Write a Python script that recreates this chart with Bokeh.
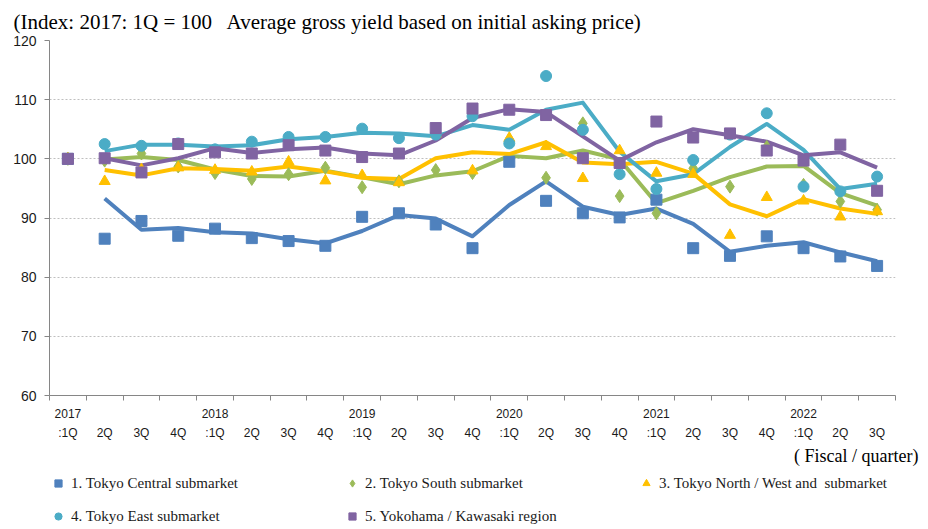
from bokeh.plotting import figure
from bokeh.models import Range1d, LinearAxis, FixedTicker, Legend, LegendItem, Title
from bokeh.layouts import column
from bokeh.embed import file_html
from bokeh.resources import INLINE

# ---------------- data ----------------
quarters = ["2017:1Q", "2017:2Q", "2017:3Q", "2017:4Q",
            "2018:1Q", "2018:2Q", "2018:3Q", "2018:4Q",
            "2019:1Q", "2019:2Q", "2019:3Q", "2019:4Q",
            "2020:1Q", "2020:2Q", "2020:3Q", "2020:4Q",
            "2021:1Q", "2021:2Q", "2021:3Q", "2021:4Q",
            "2022:1Q", "2022:2Q", "2022:3Q"]
year_labels = ["2017", "", "", "", "2018", "", "", "", "2019", "", "", "",
               "2020", "", "", "", "2021", "", "", "", "2022", "", ""]
quarter_labels = [":1Q", "2Q", "3Q", "4Q", ":1Q", "2Q", "3Q", "4Q",
                  ":1Q", "2Q", "3Q", "4Q", ":1Q", "2Q", "3Q", "4Q",
                  ":1Q", "2Q", "3Q", "4Q", ":1Q", "2Q", "3Q"]
y_ticks = [60, 70, 80, 90, 100, 110, 120]

series_names = ["1. Tokyo Central submarket",
                "2. Tokyo South submarket",
                "3. Tokyo North / West and  submarket",
                "4. Tokyo East submarket",
                "5. Yokohama / Kawasaki region"]

# quarterly index values (markers)
tokyo_central = [100, 86.5, 89.5, 87.0, 88.2, 86.6, 86.1, 85.3, 90.2, 90.8, 88.9, 84.9,
                 99.5, 92.9, 90.8, 90.1, 93.1, 84.9, 83.6, 86.9, 84.9, 83.5, 81.9]
tokyo_south = [100, 99.7, 100.9, 98.7, 97.6, 96.6, 97.4, 98.5, 95.2, 96.2, 98.1, 97.6,
               103.3, 96.8, 106.0, 93.7, 90.8, 98.4, 95.3, 102.0, 95.6, 92.8, 91.4]
tokyo_north_west = [100, 96.2, 98.2, 98.5, 98.1, 97.8, 99.5, 96.3, 97.2, 96.0, 104.2, 98.0,
                    103.5, 102.1, 96.7, 101.4, 97.6, 97.4, 87.1, 93.5, 92.9, 90.2, 91.1]
tokyo_east = [100, 102.5, 102.2, 102.6, 101.6, 102.9, 103.7, 103.7, 105.1, 103.5, 104.1, 107.2,
              102.6, 114.0, 104.9, 97.4, 94.9, 99.8, 104.1, 107.7, 95.3, 94.5, 97.0]
yokohama_kawasaki = [100, 100.1, 97.7, 102.5, 101.1, 100.9, 102.3, 101.4, 100.3, 100.9, 105.2, 108.5,
                     108.3, 107.4, 100.1, 99.3, 106.3, 103.6, 104.3, 101.4, 99.7, 102.4, 94.6]

# trend lines (from 2017:2Q onward)
tokyo_central_trend = [93.3, 88.0, 88.3, 87.6, 87.4, 86.4, 85.7, 87.8, 90.5, 89.9, 86.9,
                       92.2, 96.2, 91.9, 90.5, 91.6, 89.0, 84.3, 85.3, 85.9, 84.2, 82.7]
tokyo_south_trend = [99.9, 100.3, 99.8, 98.2, 97.1, 97.0, 98.0, 96.9, 95.7, 97.2, 97.9,
                     100.5, 100.1, 101.4, 99.9, 92.5, 94.6, 96.9, 98.7, 98.8, 94.2, 92.1]
tokyo_north_west_trend = [98.1, 97.2, 98.4, 98.3, 98.0, 98.7, 97.9, 96.8, 96.6, 100.1, 101.1,
                          100.8, 102.8, 99.4, 99.1, 99.5, 97.5, 92.3, 90.3, 93.2, 91.6, 90.7]
tokyo_east_trend = [101.3, 102.4, 102.4, 102.1, 102.3, 103.3, 103.7, 104.4, 104.3, 103.8, 105.7,
                    104.9, 108.3, 109.5, 101.2, 96.2, 97.4, 102.0, 105.9, 101.5, 94.9, 95.8]
yokohama_kawasaki_trend = [100.1, 98.9, 100.1, 101.8, 101.0, 101.6, 101.9, 100.9, 100.6, 103.1, 106.9,
                           108.4, 107.9, 103.8, 99.7, 102.8, 105.0, 104.0, 102.9, 100.6, 101.1, 98.5]

colors = ["#4F81BD", "#9BBB59", "#FFC000", "#4BACC6", "#8064A2"]
markers = ["square", "diamond", "triangle", "circle", "square"]
marker_sizes = [11, 13, 11, 11, 11]
key_sizes = [7, 8, 8, 7, 7]

values = [tokyo_central, tokyo_south, tokyo_north_west, tokyo_east, yokohama_kawasaki]
trends = [tokyo_central_trend, tokyo_south_trend, tokyo_north_west_trend,
          tokyo_east_trend, yokohama_kawasaki_trend]

# ---------------- main figure ----------------
n = len(quarters)
xs = list(range(n))

MAIN_H = 470
LEG_H = 529 - MAIN_H

p = figure(width=928, height=MAIN_H, output_backend="svg", toolbar_location=None,
           x_range=Range1d(-0.5, n - 0.5), y_range=Range1d(60, 120),
           min_border_left=49, min_border_right=33, min_border_top=40,
           min_border_bottom=MAIN_H - 395)
p.outline_line_color = None
p.background_fill_color = "white"
p.border_fill_color = "white"

p.title.text = "(Index: 2017: 1Q = 100 \u00a0 Average gross yield based on initial asking price)"
p.title.text_font = "Liberation Serif"
p.title.text_font_size = "21px"
p.title.text_font_style = "normal"
p.title.text_color = "#000000"
p.title.align = "left"
p.title.offset = -36
p.title.standoff = 13

p.xgrid.visible = False
p.ygrid.grid_line_color = "#BFBFBF"
p.ygrid.grid_line_dash = "2 2"
p.ygrid.grid_line_width = 1

# y axis
ya = p.yaxis[0]
ya.ticker = FixedTicker(ticks=y_ticks)
ya.minor_tick_line_color = None
ya.major_tick_in = 0
ya.major_tick_out = 5
ya.axis_line_color = "#868686"
ya.major_tick_line_color = "#868686"
ya.major_label_text_font = "Liberation Sans"
ya.major_label_text_font_size = "14px"
ya.major_label_text_color = "#1a1a1a"
ya.major_label_standoff = 8

# x axis row 1: years + boundary ticks
xa = p.xaxis[0]
xa.ticker = FixedTicker(ticks=xs, minor_ticks=[i - 0.5 for i in range(n + 1)])
xa.major_label_overrides = {i: lab for i, lab in enumerate(year_labels)}
xa.major_tick_out = 0
xa.major_tick_in = 0
xa.minor_tick_out = 5
xa.minor_tick_in = 0
xa.minor_tick_line_color = "#868686"
xa.axis_line_color = "#868686"
xa.major_label_text_font = "Liberation Sans"
xa.major_label_text_font_size = "12px"
xa.major_label_text_color = "#1a1a1a"
xa.major_label_standoff = 8

# x axis row 2: quarters
xa2 = LinearAxis(ticker=FixedTicker(ticks=xs))
xa2.major_label_overrides = {i: lab for i, lab in enumerate(quarter_labels)}
xa2.axis_line_color = None
xa2.major_tick_line_color = None
xa2.minor_tick_line_color = None
xa2.major_tick_out = 0
xa2.major_tick_in = 0
xa2.major_label_text_font = "Liberation Sans"
xa2.major_label_text_font_size = "12px"
xa2.major_label_text_color = "#1a1a1a"
xa2.major_label_standoff = 5
p.add_layout(xa2, "below")

# "( Fiscal / quarter)" note under the axis
p.add_layout(Title(text="( Fiscal / quarter)", align="right", offset=-23,
                   text_font="Liberation Serif", text_font_size="18px",
                   text_font_style="normal", text_color="#000000", standoff=3), "below")

# trend lines first
for i in range(5):
    p.line(xs[1:], trends[i], line_color=colors[i], line_width=4, line_join="round")

# markers on top
for i in range(5):
    p.scatter(xs, values[i], marker=markers[i], size=marker_sizes[i],
              fill_color=colors[i], line_color=colors[i])

# ---------------- legend strip ----------------
lg = figure(width=928, height=LEG_H, output_backend="svg", toolbar_location=None,
            x_range=Range1d(0, 1), y_range=Range1d(0, 1),
            x_axis_location=None, y_axis_location=None,
            min_border_left=0, min_border_right=0,
            min_border_top=0, min_border_bottom=0)
lg.outline_line_color = None
lg.grid.visible = False
lg.background_fill_color = "white"
lg.border_fill_color = "white"

# key glyphs (their single point lies outside the strip's visible range)
key_renderers = []
for i in range(5):
    r = lg.scatter(x=[-5], y=[-5], marker=markers[i], size=key_sizes[i],
                   fill_color=colors[i], line_color=colors[i])
    key_renderers.append(r)

legend = Legend(items=[LegendItem(label=series_names[i], renderers=[key_renderers[i]])
                       for i in range(5)],
                location=(0, 4), orientation="horizontal", ncols=3,
                glyph_width=18, glyph_height=18, label_width=257, label_height=18,
                label_standoff=4, spacing=15, padding=0, margin=0,
                label_text_font="Liberation Serif", label_text_font_size="15px",
                label_text_color="#1a1a1a",
                background_fill_alpha=0, border_line_color=None)
lg.add_layout(legend)

layout = column(p, lg, spacing=0)
open("out.html", "w").write(file_html(layout, INLINE))
